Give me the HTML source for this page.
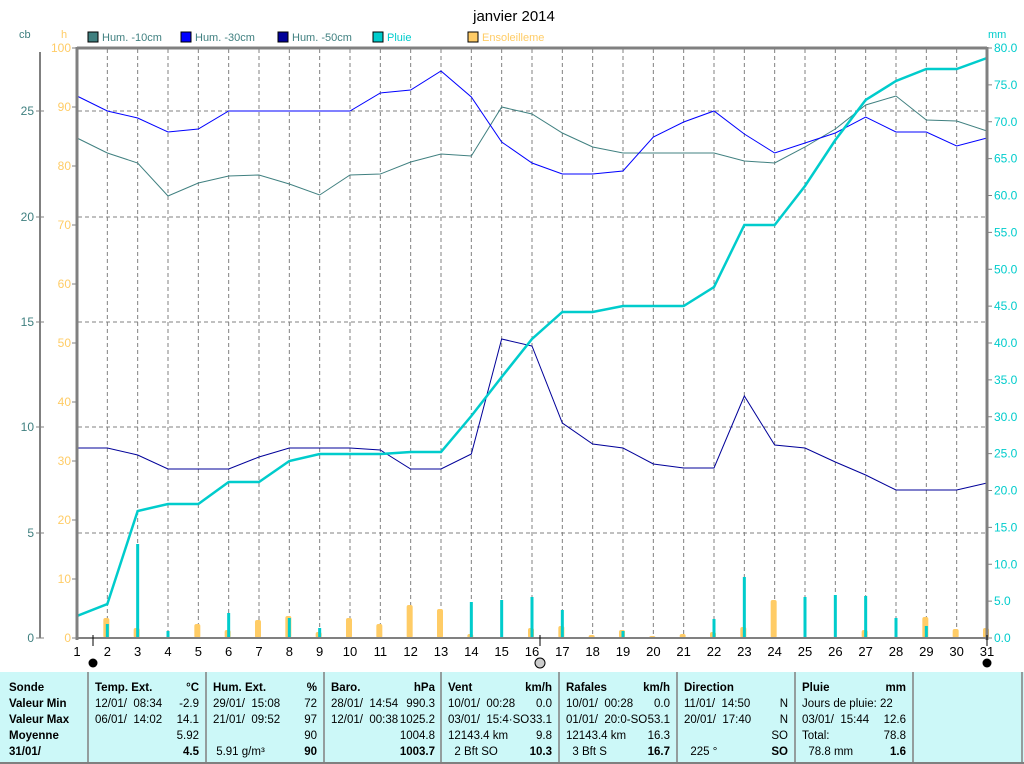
<!DOCTYPE html>
<html><head><meta charset="utf-8"><style>
body{margin:0;background:#fff;width:1024px;height:764px;overflow:hidden;font-family:"Liberation Sans",sans-serif}
svg{position:absolute;left:0;top:0}
</style></head><body>
<svg id="s" width="1024" height="764" xmlns="http://www.w3.org/2000/svg" font-family="Liberation Sans, sans-serif" font-size="12"></svg>
<script>
const s=document.getElementById('s');let h='';
const X=d=>77+(d-1)*910/30;
h+='<text x="514" y="21" font-size="15" text-anchor="middle">janvier 2014</text>';
h+='<text x="19" y="38" fill="#408080" font-size="11">cb</text><text x="61" y="38" fill="#ffcc66" font-size="11">h</text><text x="988" y="38" fill="#00cccc" font-size="11">mm</text>';
const leg=[[88,'#408080','Hum. -10cm','#408080'],[181,'#0000ff','Hum. -30cm','#408080'],[278,'#000099','Hum. -50cm','#408080'],[373,'#00cccc','Pluie','#00cccc'],[468,'#ffcc66','Ensoleilleme','#ffcc66']];
leg.forEach(l=>{h+=`<rect x="${l[0]}" y="32" width="10" height="10" fill="${l[1]}" stroke="#000" stroke-width="1"/><text x="${l[0]+14}" y="41" fill="${l[3]}" font-size="11">${l[2]}</text>`});
for(let d=2;d<=30;d++)h+=`<line x1="${X(d)}" y1="49" x2="${X(d)}" y2="638" stroke="#808080" stroke-dasharray="4,3"/>`;
[111,217,322,427,533].forEach(y=>h+=`<line x1="78" y1="${y}" x2="986" y2="${y}" stroke="#808080" stroke-dasharray="4,3"/>`);
h+='<line x1="40" y1="52" x2="40" y2="638" stroke="#808080" stroke-width="2"/>';
[[25,111],[20,217],[15,322],[10,427],[5,533],[0,638]].forEach(a=>{h+=`<line x1="36" y1="${a[1]}" x2="44" y2="${a[1]}" stroke="#808080"/><text x="34" y="${a[1]+4}" text-anchor="end" fill="#408080">${a[0]}</text>`});
for(let v=0;v<=100;v+=10){let y=638-v*5.9;h+=`<line x1="72" y1="${y}" x2="77" y2="${y}" stroke="#808080"/><text x="71" y="${y+4}" text-anchor="end" fill="#ffcc66">${v}</text>`}
for(let v=0;v<=80;v+=5){let y=638-v*7.375;h+=`<line x1="987" y1="${y}" x2="992" y2="${y}" stroke="#808080"/><text x="994" y="${y+4}" fill="#00cccc">${v.toFixed(1)}</text>`}
const sun={2:618,3:628,5:624,6:630,7:620,8:616,9:632,10:618,11:624,12:605,13:609,14:634,16:628,17:626,18:635,19:630,20:636,21:634,22:632,23:627,24:600,27:630,29:617,30:629,31:628};
for(const d in sun)h+=`<rect x="${X(+d)-4}" y="${sun[d]}" width="6" height="${638-sun[d]}" fill="#ffcc66" rx="2"/>`;
const rain={1:630,2:624,3:544,4:631,6:613,8:618,9:628,14:602,15:600,16:597,17:610,19:631,22:619,23:577,25:597,26:595,27:596,28:618,29:626,31:626};
for(const d in rain)h+=`<rect x="${X(+d)-1.5}" y="${rain[d]}" width="3" height="${638-rain[d]}" fill="#00cccc"/>`;
function pl(a,c,w,extra){return `<polyline fill="none" stroke="${c}" stroke-width="${w}" points="${extra||''}${a.map((y,i)=>X(i+1)+','+y).join(' ')}"/>`}
h+=pl([138,153,163,196,183,176,175,184,195,175,174,162,154,156,107,114,133,147,153,153,153,153,161,163,147,129,105,96,120,121,131],'#408080',1);
h+=pl([96,111,118,132,129,111,111,111,111,111,93,90,71,97,142,163,174,174,171,137,122,111,134,153,143,133,117,132,132,146,138],'#0000ff',1);
h+=pl([448,448,455,469,469,469,457,448,448,448,450,469,469,454,339,346,423,444,448,464,468,468,396,445,448,462,475,490,490,490,483],'#000099',1);
h+=pl([616,604,511,504,504,482,482,461,454,454,454,452,452,416,377,339,312,312,306,306,306,287,225,225,186,140,100,81,69,69,58],'#00cccc',2.5,'77,638 ');
h+='<line x1="77" y1="48" x2="987" y2="48" stroke="#808080" stroke-width="3"/><line x1="77" y1="47" x2="77" y2="640" stroke="#808080" stroke-width="3"/><line x1="77" y1="638" x2="987" y2="638" stroke="#808080" stroke-width="2"/><line x1="987" y1="47" x2="987" y2="640" stroke="#808080" stroke-width="3"/>';
for(let d=1;d<=31;d++)h+=`<text x="${X(d)}" y="656" text-anchor="middle" font-size="13">${d}</text>`;
h+='<line x1="93" y1="635" x2="93" y2="646" stroke="#000"/><line x1="540" y1="635" x2="540" y2="646" stroke="#000"/><line x1="987" y1="635" x2="987" y2="646" stroke="#000"/>';
h+='<circle cx="93" cy="663" r="4.5" fill="#000"/><circle cx="540" cy="663" r="5" fill="#ccc" stroke="#000"/><circle cx="987" cy="663" r="4.5" fill="#000"/>';
h+='<rect x="0" y="672" width="1024" height="92" fill="#ccf8f8"/><line x1="0" y1="763" x2="1024" y2="763" stroke="#808080" stroke-width="2"/>';
[88,206,324,441,559,677,795,913,1022].forEach(x=>h+=`<line x1="${x}" y1="672" x2="${x}" y2="763" stroke="#808080" stroke-width="1.5"/>`);
const ys=[691,707,723,739,755];
function T(x,i,t,b,anc){h+=`<text x="${x}" y="${ys[i]}" font-size="11.5" ${b?'font-weight="bold"':''} ${anc?'text-anchor="end"':''}>${t}</text>`}
['Sonde','Valeur Min','Valeur Max','Moyenne','31/01/'].forEach((t,i)=>T(9,i,t,1));
const cols=[[95,199,['Temp. Ext.','°C'],[['12/01/  08:34','-2.9'],['06/01/  14:02','14.1'],['','5.92'],['','4.5',1]]],
[213,317,['Hum. Ext.','%'],[['29/01/  15:08','72'],['21/01/  09:52','97'],['','90'],[' 5.91 g/m³','90',1]]],
[331,435,['Baro.','hPa'],[['28/01/  14:54','990.3'],['12/01/  00:38','1025.2'],['','1004.8'],['','1003.7',1]]],
[448,552,['Vent','km/h'],[['10/01/  00:28','0.0'],['03/01/  15:4·SO','33.1'],['12143.4 km','9.8'],['  2 Bft SO','10.3',1]]],
[566,670,['Rafales','km/h'],[['10/01/  00:28','0.0'],['01/01/  20:0-SO','53.1'],['12143.4 km','16.3'],['  3 Bft S','16.7',1]]],
[684,788,['Direction',''],[['11/01/  14:50','N'],['20/01/  17:40','N'],['','SO'],['  225 °','SO',1]]],
[802,906,['Pluie','mm'],[['Jours de pluie: 22',''],['03/01/  15:44','12.6'],['Total:','78.8'],['  78.8 mm','1.6',1]]]];
cols.forEach(c=>{T(c[0],0,c[2][0],1);T(c[1],0,c[2][1],1,1);c[3].forEach((r,i)=>{h+=`<text x="${c[0]}" y="${ys[i+1]}" font-size="11.5" xml:space="preserve">${r[0]}</text>`;T(c[1],i+1,r[1],r[2],1)})});
s.innerHTML=h;
</script>
</body></html>
